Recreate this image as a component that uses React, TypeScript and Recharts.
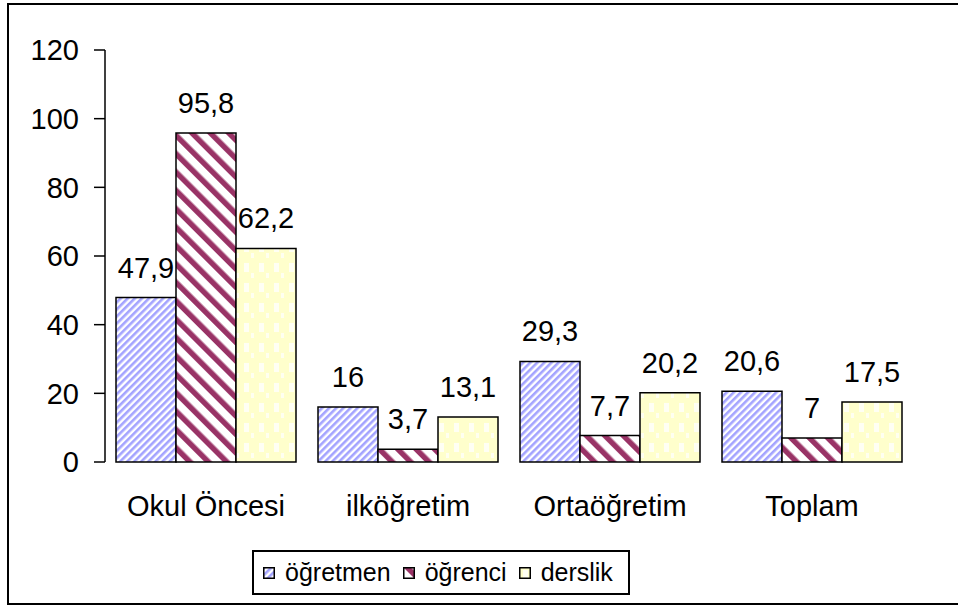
import React from "react";
import { BarChart, Bar, XAxis, YAxis, LabelList } from "recharts";

// kategori & seri
const categories = ["Okul Öncesi", "ilköğretim", "Ortaöğretim", "Toplam"];
const ogretmen = [47.9, 16, 29.3, 20.6];
const ogrenci = [95.8, 3.7, 7.7, 7];
const derslik = [62.2, 13.1, 20.2, 17.5];
const yTicks = [0, 20, 40, 60, 80, 100, 120];

const series = [
  { key: "ogretmen", name: "öğretmen", fill: "url(#patBlue)" },
  { key: "ogrenci", name: "öğrenci", fill: "url(#patRed)" },
  { key: "derslik", name: "derslik", fill: "url(#patYellow)" },
];

const data = categories.map((c, i) => ({
  name: c,
  idx: i + 0.5,
  ogretmen: ogretmen[i],
  ogrenci: ogrenci[i],
  derslik: derslik[i],
}));

const FONT = "'Liberation Sans', Arial, sans-serif";

const fmt = (v: any) => String(v).replace(".", ",");

const Patterns = () => (
  <svg width={0} height={0} style={{ position: "absolute" }}>
    <defs>
      <pattern id="patBlue" width={5} height={5} patternUnits="userSpaceOnUse" patternTransform="rotate(45)">
        <rect width={5} height={5} fill="#ffffff" />
        <rect width={2.6} height={5} fill="#a3a3ff" />
      </pattern>
      <pattern id="patRed" width={13} height={13} patternUnits="userSpaceOnUse" patternTransform="rotate(-45)">
        <rect width={13} height={13} fill="#ffffff" />
        <rect width={5.5} height={13} fill="#993366" />
      </pattern>
      <pattern id="patYellow" width={15} height={20} patternUnits="userSpaceOnUse">
        <rect width={15} height={20} fill="#ffffcc" />
        <rect x={4} y={3} width={5} height={9} fill="#fffff4" />
        <rect x={11} y={13} width={3} height={5} fill="#fffff0" />
      </pattern>
    </defs>
  </svg>
);

const Legendbox = () => (
  <div
    style={{
      position: "absolute",
      left: 252,
      top: 550,
      width: 365,
      height: 41,
      border: "2px solid #000",
      display: "flex",
      alignItems: "center",
      fontFamily: FONT,
      fontSize: 25,
      color: "#000",
      paddingLeft: 9,
      boxSizing: "content-box",
      whiteSpace: "nowrap",
    }}
  >
    {series.map((s) => (
      <div key={s.key} style={{ display: "flex", alignItems: "center", marginRight: 12 }}>
        <svg width={12} height={12} style={{ marginRight: 10 }}>
          <rect x={0.75} y={0.75} width={10.5} height={10.5} fill={s.fill} stroke="#000" strokeWidth={1.5} />
        </svg>
        <span>{s.name}</span>
      </div>
    ))}
  </div>
);

export default function App() {
  return (
    <div style={{ position: "absolute", left: 0, top: 0, width: 958, height: 607, overflow: "hidden", background: "#fff" }}>
      <Patterns />
      <div
        style={{
          position: "absolute",
          left: 7,
          top: 3,
          width: 960,
          height: 598,
          border: "2px solid #000",
          borderRight: "none",
        }}
      />
      <div style={{ position: "absolute", left: 0, top: 0 }}>
        <BarChart
          width={958}
          height={607}
          data={data}
          margin={{ top: 50, right: 45, left: 0, bottom: 85 }}
          barGap={0}
          barCategoryGap={11}
        >
          <XAxis
            xAxisId="num"
            dataKey="idx"
            type="number"
            domain={[0, 4]}
            ticks={[0, 1, 2, 3, 4]}
            height={0}
            tickSize={10}
            stroke="#000"
            strokeWidth={1.5}
            tick={() => <g />}
          />
          <XAxis
            xAxisId="cat"
            dataKey="name"
            height={60}
            axisLine={false}
            tickLine={false}
            tickSize={0}
            tickMargin={33}
            tick={{ fontSize: 29, fill: "#000", fontFamily: FONT }}
          />
          <YAxis
            width={105}
            domain={[0, 120]}
            ticks={yTicks}
            tickSize={11}
            tickMargin={15}
            stroke="#000"
            strokeWidth={1.5}
            tick={{ fontSize: 29, fill: "#000", fontFamily: FONT }}
          />
          {series.map((s) => (
            <Bar
              key={s.key}
              xAxisId="cat"
              dataKey={s.key}
              name={s.name}
              fill={s.fill}
              stroke="#000"
              strokeWidth={1.5}
              isAnimationActive={false}
            >
              <LabelList
                dataKey={s.key}
                position="top"
                offset={20}
                formatter={fmt}
                style={{ fontSize: 29, fill: "#000", fontFamily: FONT }}
              />
            </Bar>
          ))}
        </BarChart>
      </div>
      <Legendbox />
    </div>
  );
}
